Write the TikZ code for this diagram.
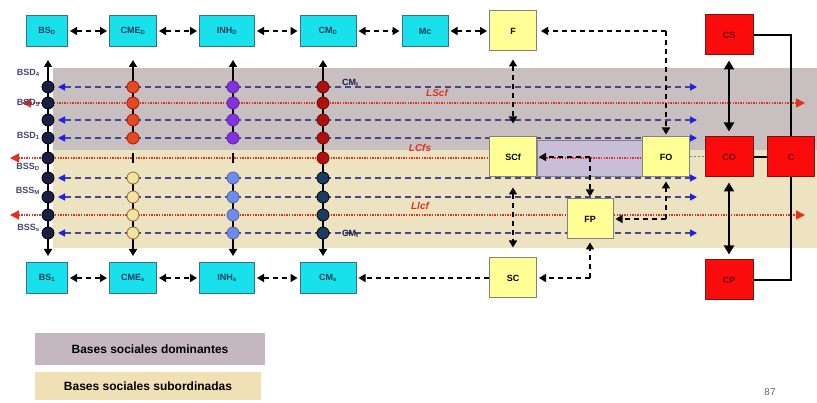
\documentclass[tikz,border=0pt]{standalone}
\usepackage{fontspec}
\setmainfont{Liberation Sans}
\usetikzlibrary{arrows.meta}
\definecolor{bandgray}{RGB}{200,192,192}
\definecolor{bandyellow}{RGB}{238,227,192}
\definecolor{leggray}{RGB}{196,184,190}
\definecolor{legyellow}{RGB}{240,224,182}
\definecolor{cyanfill}{RGB}{25,225,235}
\definecolor{cyanedge}{RGB}{60,110,140}
\definecolor{yfill}{RGB}{255,255,150}
\definecolor{yedge}{RGB}{130,130,130}
\definecolor{rfill}{RGB}{250,12,12}
\definecolor{redge}{RGB}{120,20,20}
\definecolor{rtext}{RGB}{110,0,0}
\definecolor{ctext}{RGB}{20,60,90}
\definecolor{bluedash}{RGB}{70,70,150}
\definecolor{bluetip}{RGB}{30,30,240}
\definecolor{reddot}{RGB}{225,50,30}
\definecolor{lbltext}{RGB}{70,70,110}
\definecolor{lavender}{RGB}{200,190,215}
\definecolor{cnavy}{RGB}{25,30,70}
\definecolor{corange}{RGB}{225,75,30}
\definecolor{cpale}{RGB}{245,225,160}
\definecolor{cpaleedge}{RGB}{140,110,50}
\definecolor{cpurple}{RGB}{130,50,225}
\definecolor{clblue}{RGB}{110,140,240}
\definecolor{cdred}{RGB}{175,15,15}
\definecolor{cdblue}{RGB}{25,60,100}
\tikzset{
  bx/.style={minimum width=#1, inner sep=0pt, font=\bfseries\fontsize{9}{10}\selectfont},
  cbox/.style={bx=#1, minimum height=31, fill=cyanfill, draw=cyanedge, line width=1pt, text=ctext},
  ybox/.style={bx=47, minimum height=40, fill=yfill, draw=yedge, line width=1pt, text=black},
  rbox/.style={bx=48, minimum height=40, fill=rfill, draw=redge, line width=1pt, text=rtext},
  dlink/.style={line width=1.6pt, dash pattern=on 5pt off 4pt, black},
  tip/.style={-{Triangle[length=7pt,width=8pt]}},
  tips/.style={{Triangle[length=7pt,width=8pt]}-{Triangle[length=7pt,width=8pt]}},
  bline/.style={bluedash, line width=1.3pt, dash pattern=on 6pt off 4pt,
     {Triangle[length=7pt,width=7pt,fill=bluetip,color=bluetip]}-{Triangle[length=7pt,width=7pt,fill=bluetip,color=bluetip]}},
  rline/.style={reddot, line width=1.4pt, dash pattern=on 1.3pt off 1.3pt},
  lbl/.style={font=\bfseries\fontsize{9}{10}\selectfont, text=lbltext, inner sep=0pt},
  rlbl/.style={font=\bfseries\itshape\fontsize{10}{11}\selectfont, text=reddot, inner sep=0pt},
  circ/.style args={#1/#2}{circle, minimum size=12pt, inner sep=0pt, fill=#1, draw=#2, line width=0.8pt},
  vline/.style={line width=1.6pt, black},
  leg/.style={font=\bfseries\fontsize{12}{13}\selectfont, inner sep=0pt}
}
\begin{document}
\begin{tikzpicture}[x=1pt,y=-1pt]
\useasboundingbox (0,0) rectangle (817,403);
% bands
\fill[bandgray] (53,68) rectangle (817,150);
\fill[bandyellow] (53,150) rectangle (817,248);
\fill[lavender] (537,140) rectangle (643,176);
\draw[yedge, line width=0.8pt] (537,140) rectangle (643,176);

% row lines
\foreach \y/\n in {87/1,120/3,138/4,178/6,197/7,233/9}{
  \coordinate (bl\n) at (58,\y);
  \coordinate (br\n) at (697,\y);
  \draw[bline] (bl\n) -- (br\n);
}
\coordinate (rl2) at (22,103); \coordinate (rr2) at (805,103);
\coordinate (rl5) at (10,158); \coordinate (rr5) at (643,158);
\coordinate (rl8) at (10,215); \coordinate (rr8) at (805,215);
\draw[rline, {Triangle[length=9pt,width=9pt,fill=reddot,color=reddot]}-{Triangle[length=9pt,width=9pt,fill=reddot,color=reddot]}] (rl2) -- (rr2);
\draw[rline, {Triangle[length=9pt,width=9pt,fill=reddot,color=reddot]}-{Triangle[length=9pt,width=9pt,fill=reddot,color=reddot]}] (rl8) -- (rr8);
\draw[rline, {Triangle[length=9pt,width=9pt,fill=reddot,color=reddot]}-] (rl5) -- (rr5);

% top / bottom boxes
\node[cbox=41] (BSD)  at (47,31)  {BS\textsubscript{D}};
\node[cbox=47] (CMED) at (133,31) {CME\textsubscript{D}};
\node[cbox=55] (INHD) at (227,31) {INH\textsubscript{D}};
\node[cbox=56] (CMD)  at (328,31) {CM\textsubscript{D}};
\node[cbox=46] (Mc)   at (425,31) {Mc};
\node[ybox] (F) at (513,31) {F};
\node[rbox] (CS) at (729,35) {CS};

\node[cbox=41] (BSs)  at (47,278)  {BS\textsubscript{1}};
\node[cbox=47] (CMEs) at (133,278) {CME\textsubscript{s}};
\node[cbox=55] (INHs) at (227,278) {INH\textsubscript{s}};
\node[cbox=56] (CMs)  at (328,278) {CM\textsubscript{s}};
\node[ybox] (SC) at (513,278) {SC};
\node[rbox] (CP) at (729,280) {CP};

\node[ybox] (SCf) at (513,157) {SCf};
\node[ybox] (FO)  at (666,157) {FO};
\node[ybox, minimum width=46] (FP) at (590,219) {FP};
\node[rbox] (CO) at (729,157) {CO};
\node[rbox, minimum width=47] (C) at (791,157) {C};

% box-to-box links
\foreach \a/\b in {BSD/CMED,CMED/INHD,INHD/CMD,CMD/Mc,Mc/F,BSs/CMEs,CMEs/INHs,INHs/CMs}{
  \draw[dlink,tips,shorten <=2pt,shorten >=2pt] (\a) -- (\b);
}
\draw[dlink,tip,shorten >=2pt] (SC) -- (CMs);

% columns
\coordinate (t1) at (48,60); \coordinate (b1) at (48,256);
\coordinate (t2) at (133,60); \coordinate (b2) at (133,256);
\coordinate (t3) at (233,60); \coordinate (b3) at (233,256);
\coordinate (t4) at (323,60); \coordinate (b4) at (323,256);
\draw[vline,tips] (t1) -- (b1);
\draw[vline,tip] (133,138) -- (t2);
\draw[vline,tip] (133,178) -- (b2);
\draw[vline] (133,153) -- (133,163);
\draw[vline,tip] (233,138) -- (t3);
\draw[vline,tip] (233,178) -- (b3);
\draw[vline] (233,153) -- (233,163);
\draw[vline,tips] (t4) -- (b4);
\foreach \y in {87,103,120,138,158,178,197,215,233}{
  \node[circ=cnavy/black] at (48,\y) {};
}
\foreach \y in {87,103,120,138}{
  \node[circ=corange/cdred] at (133,\y) {};
  \node[circ=cpurple/cpurple!70!black] at (233,\y) {};
}
\foreach \y in {178,197,215,233}{
  \node[circ=cpale/cpaleedge] at (133,\y) {};
  \node[circ=clblue/clblue!70!black] at (233,\y) {};
  \node[circ=cdblue/black] at (323,\y) {};
}
\foreach \y in {87,103,120,138,158}{
  \node[circ=cdred/cdred!60!black] at (323,\y) {};
}

% labels
\node[lbl, anchor=east] (l1) at (40,73)  {BSD\textsubscript{4}};
\node[lbl, anchor=east] (l2) at (40,103) {BSD\textsubscript{3}};
\node[lbl, anchor=east] (l3) at (40,136) {BSD\textsubscript{1}};
\node[lbl, anchor=east] (l4) at (40,167) {BSS\textsubscript{D}};
\node[lbl, anchor=east] (l5) at (40,191) {BSS\textsubscript{M}};
\node[lbl, anchor=east] (l6) at (40,228) {BSS\textsubscript{s}};
\node[lbl, anchor=west, text=cnavy] (cmt1) at (342,83) {CM\textsubscript{t}};
\node[lbl, anchor=west, text=cnavy] (cmt2) at (342,234) {CM\textsubscript{t}};
\node[rlbl] (ls) at (437,93) {LScf};
\node[rlbl] (lc) at (420,148) {LCfs};
\node[rlbl] (ll) at (420,206) {Llcf};

% F / SCf / FO / FP / SC links
\draw[dlink,tips,shorten <=8pt,shorten >=13pt] (F) -- (SCf);
\draw[dlink,tips,shorten <=10pt,shorten >=10pt] (SCf) -- (SC);
\coordinate (k1) at (FO |- F);
\draw[dlink,tip,shorten >=4pt] (k1) -- (F);
\draw[dlink,tip,shorten >=2pt] (k1) -- (FO);
\coordinate (j1) at (FP |- SCf);
\draw[dlink,tip,shorten >=2pt] (j1) -- (SCf);
\draw[dlink,tip,shorten >=2pt] (j1) -- (FP);
\coordinate (j2) at (FO |- FP);
\draw[dlink,tip,shorten >=2pt] (j2) -- (FP);
\draw[dlink,tip,shorten >=4pt] (j2) -- (FO);
\coordinate (j3) at (FP |- SC);
\draw[dlink,tip,shorten >=2pt] (j3) -- (SC);
\draw[dlink,tip,shorten >=3pt] (j3) -- (FP);

% red boxes links
\draw[gray, line width=1pt, dash pattern=on 2pt off 2pt] (FO) -- (CO);
\draw[black, line width=1.2pt] (CO) -- (C);
\draw[line width=2pt, {Triangle[length=9pt,width=10pt]}-{Triangle[length=9pt,width=10pt]}, shorten <=5pt, shorten >=5pt] (CS) -- (CO);
\draw[line width=2pt, {Triangle[length=9pt,width=10pt]}-{Triangle[length=9pt,width=10pt]}, shorten <=5pt, shorten >=5pt] (CO) -- (CP);
\draw[line width=1.6pt] (CS.east) -| (C.north);
\draw[line width=1.6pt] (C.south) |- (CP.east);

% legend
\node[leg, fill=leggray, minimum width=230, minimum height=32] (lg1) at (150,349) {Bases sociales dominantes};
\node[leg, fill=legyellow, minimum width=226, minimum height=28] (lg2) at (148,386) {Bases sociales subordinadas};
\node[font=\fontsize{10}{11}\selectfont, text=gray!80!black] (pg) at (770,392) {87};
\end{tikzpicture}
\end{document}
